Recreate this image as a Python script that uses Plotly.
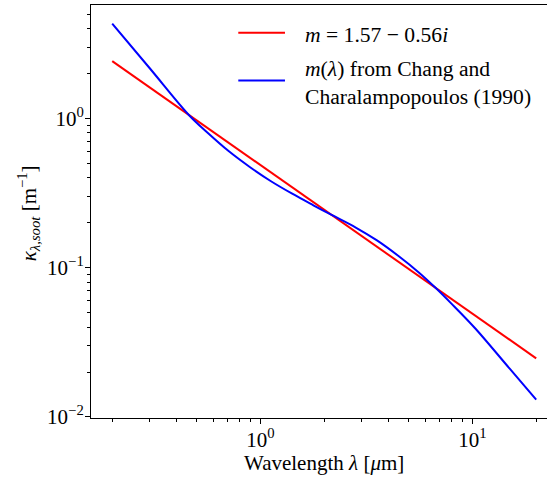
import plotly.graph_objects as go

# Data
lam_red = [0.2, 20.0]
kap_red = [2.42, 0.0247]

lam_blue = [0.2, 0.3, 0.461, 0.562, 0.708, 0.891, 1.122, 1.413, 1.778, 2.156,
            2.818, 3.548, 4.467, 5.623, 6.74, 7.943, 10.3, 15.0, 20.0]
kap_blue = [4.315, 2.177, 1.051, 0.805, 0.6045, 0.473, 0.3796, 0.3131, 0.262, 0.2265,
            0.1858, 0.1523, 0.1202, 0.0923, 0.0728, 0.0577, 0.0393, 0.02105, 0.01306]

label_red = "<i>m</i> = 1.57 − 0.56<i>i</i>"
label_blue = "<i>m</i>(<i>λ</i>) from Chang and<br>Charalampopoulos (1990)"
x_title = "Wavelength <i>λ</i> [<i>μ</i>m]"
y_title = "<i>κ</i><sub><i>λ,soot</i></sub> [m<sup>−1</sup>]"

x_major = [1, 10]
x_major_text = ["10<sup>0</sup>", "10<sup>1</sup>"]
x_minor = [0.2, 0.3, 0.4, 0.5, 0.6, 0.7, 0.8, 0.9, 2, 3, 4, 5, 6, 7, 8, 9, 20]
y_major = [0.01, 0.1, 1]
y_major_text = ["10<sup>−2</sup>", "10<sup>−1</sup>", "10<sup>0</sup>"]
y_minor = [0.02, 0.03, 0.04, 0.05, 0.06, 0.07, 0.08, 0.09,
           0.2, 0.3, 0.4, 0.5, 0.6, 0.7, 0.8, 0.9, 2, 3, 4, 5]

FONT = "Liberation Serif"
FS = 21

fig = go.Figure()
fig.add_trace(go.Scatter(x=lam_red, y=kap_red, mode="lines",
                         line=dict(color="#ff0000", width=2), name=label_red, showlegend=False))
fig.add_trace(go.Scatter(x=lam_blue, y=kap_blue, mode="lines",
                         line=dict(color="#0000ff", width=2, shape="spline", smoothing=1.0),
                         name=label_blue, showlegend=False))

# manual legend
leg = [(label_red, "#ff0000", 0.933, 0.927), (label_blue, "#0000ff", 0.817, 0.811)]
for txt, col, yl, yt in leg:
    fig.add_shape(type="line", xref="paper", yref="paper", x0=0.323, x1=0.4254, y0=yl, y1=yl,
                  line=dict(color=col, width=2))
    fig.add_annotation(xref="paper", yref="paper", x=0.4643, y=yt, text=txt, showarrow=False,
                       xanchor="left", yanchor="middle", align="left",
                       font=dict(family=FONT, size=21.6, color="black"))

# axis titles
fig.add_annotation(xref="paper", yref="paper", x=0.511, y=-0.109, text=x_title,
                   showarrow=False, xanchor="center", yanchor="middle",
                   font=dict(family=FONT, size=FS, color="black"))
fig.add_annotation(xref="paper", yref="paper", x=-0.138, y=0.496, text=y_title,
                   showarrow=False, xanchor="center", yanchor="middle", textangle=-90,
                   font=dict(family=FONT, size=FS, color="black"))

axis_common = dict(
    type="log", automargin=False, showgrid=False, zeroline=False, showline=True,
    linecolor="black", linewidth=1.1,
    ticks="outside", ticklen=5, tickwidth=1.1, tickcolor="black",
    tickfont=dict(family=FONT, size=FS, color="black"),
)

fig.update_layout(
    width=547, height=479,
    margin=dict(l=91, r=0, t=5, b=61),
    paper_bgcolor="white", plot_bgcolor="white",
    font=dict(family=FONT, size=FS, color="black"),
    xaxis=dict(**axis_common, range=[-0.799, 1.352], mirror=True, ticklabelstandoff=-2,
               tickmode="array", tickvals=x_major, ticktext=x_major_text,
               minor=dict(tickmode="array", tickvals=x_minor, ticks="outside", ticklen=3,
                          tickwidth=1, tickcolor="black")),
    yaxis=dict(**axis_common, range=[-2.007, 0.76], ticklabelstandoff=-3,
               tickmode="array", tickvals=y_major, ticktext=y_major_text,
               minor=dict(tickmode="array", tickvals=y_minor, ticks="outside", ticklen=3,
                          tickwidth=1, tickcolor="black")),
)

fig.write_html("out.html", config={"displayModeBar": False},
               post_script="document.body.style.margin='0px';document.body.style.overflow='hidden';")
